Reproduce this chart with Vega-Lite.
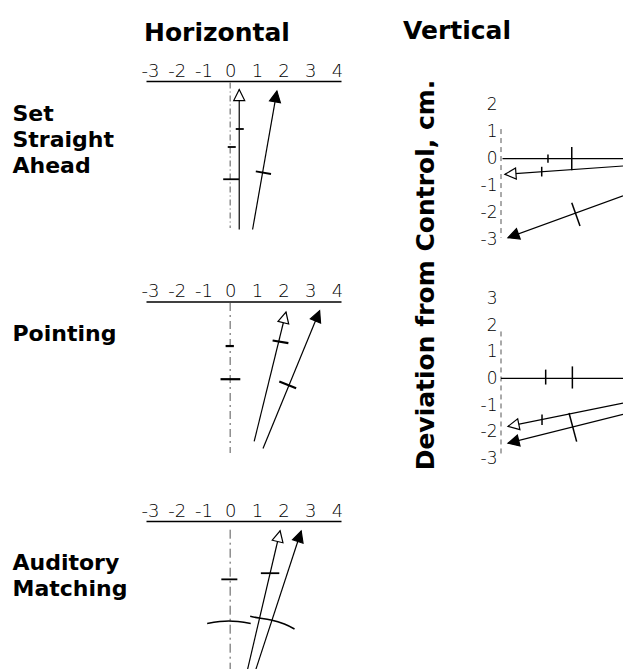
{
  "$schema": "https://vega.github.io/schema/vega-lite/v6.json",
  "background": "white",
  "padding": {"left": 12, "top": 19, "right": 0, "bottom": 0},
  "config": {
    "view": {"stroke": null},
    "axis": {"grid": false},
    "font": "DejaVu Sans"
  },
  "datasets": {
    "h1": [
      {"kind": "control", "x": 0, "y": 0.1, "x2": 0, "y2": 9.8},
      {"kind": "path", "style": "open", "x": 0.34, "y": 0.57, "x2": 0.34, "y2": 9.9, "heading": 0},
      {"kind": "path", "style": "filled", "x": 1.75, "y": 0.67, "x2": 0.84, "y2": 9.9, "heading": 10},
      {"kind": "tick", "x": 0.21, "y": 3.2, "x2": 0.51, "y2": 3.2},
      {"kind": "tick", "x": -0.09, "y": 4.4, "x2": 0.21, "y2": 4.4},
      {"kind": "tick", "x": -0.26, "y": 6.55, "x2": 0.33, "y2": 6.55},
      {"kind": "tick", "x": 0.96, "y": 6.03, "x2": 1.53, "y2": 6.2}
    ],
    "h2": [
      {"kind": "control", "x": 0, "y": 0.1, "x2": 0, "y2": 10.1},
      {"kind": "path", "style": "open", "x": 2.09, "y": 0.7, "x2": 0.9, "y2": 9.33, "heading": 13.8},
      {"kind": "path", "style": "filled", "x": 3.35, "y": 0.62, "x2": 1.23, "y2": 9.8, "heading": 22.2},
      {"kind": "tick", "x": -0.17, "y": 2.97, "x2": 0.14, "y2": 2.97},
      {"kind": "tick", "x": -0.36, "y": 5.18, "x2": 0.38, "y2": 5.18},
      {"kind": "tick", "x": 1.59, "y": 2.6, "x2": 2.18, "y2": 2.78},
      {"kind": "tick", "x": 1.84, "y": 5.33, "x2": 2.47, "y2": 5.78}
    ],
    "h3": [
      {"kind": "control", "x": 0, "y": 0.58, "x2": 0, "y2": 9.98},
      {"kind": "path", "style": "open", "x": 1.87, "y": 0.65, "x2": 0.65, "y2": 9.91, "heading": 13.1},
      {"kind": "path", "style": "filled", "x": 2.66, "y": 0.67, "x2": 0.96, "y2": 9.91, "heading": 18},
      {"kind": "tick", "x": -0.33, "y": 3.89, "x2": 0.27, "y2": 3.89},
      {"kind": "tick", "x": 1.15, "y": 3.48, "x2": 1.84, "y2": 3.48},
      {"kind": "arc", "id": "a", "i": 0, "x": -0.86, "y": 6.83},
      {"kind": "arc", "id": "a", "i": 1, "x": -0.05, "y": 6.67},
      {"kind": "arc", "id": "a", "i": 2, "x": 0.77, "y": 6.83},
      {"kind": "arc", "id": "b", "i": 0, "x": 0.75, "y": 6.35},
      {"kind": "arc", "id": "b", "i": 1, "x": 1.09, "y": 6.47},
      {"kind": "arc", "id": "b", "i": 2, "x": 1.53, "y": 6.6},
      {"kind": "arc", "id": "b", "i": 3, "x": 2.03, "y": 6.87},
      {"kind": "arc", "id": "b", "i": 4, "x": 2.41, "y": 7.2}
    ],
    "v1": [
      {"kind": "control", "x": 0, "y": 1.1, "x2": 0, "y2": -2.93},
      {"kind": "level", "x": 0.1, "y": 0, "x2": 8, "y2": 0},
      {"kind": "path", "style": "open", "x": 0.26, "y": -0.58, "x2": 8, "y2": -0.27, "heading": 266},
      {"kind": "path", "style": "filled", "x": 0.46, "y": -2.93, "x2": 8, "y2": -1.38, "heading": 250},
      {"kind": "tick", "x": 3.08, "y": 0.16, "x2": 3.08, "y2": -0.15},
      {"kind": "tick", "x": 4.64, "y": 0.43, "x2": 4.64, "y2": -0.43},
      {"kind": "tick", "x": 2.67, "y": -0.3, "x2": 2.67, "y2": -0.66},
      {"kind": "tick", "x": 4.64, "y": -1.63, "x2": 5.18, "y2": -2.5}
    ],
    "v2": [
      {"kind": "control", "x": 0, "y": 1.76, "x2": 0, "y2": -2.93},
      {"kind": "level", "x": 0, "y": 0, "x2": 8, "y2": 0},
      {"kind": "path", "style": "open", "x": 0.46, "y": -1.8, "x2": 8, "y2": -0.93, "heading": 258.5},
      {"kind": "path", "style": "filled", "x": 0.46, "y": -2.43, "x2": 8, "y2": -1.35, "heading": 256},
      {"kind": "tick", "x": 2.93, "y": 0.33, "x2": 2.93, "y2": -0.23},
      {"kind": "tick", "x": 4.68, "y": 0.45, "x2": 4.68, "y2": -0.38},
      {"kind": "tick", "x": 2.69, "y": -1.35, "x2": 2.69, "y2": -1.75},
      {"kind": "tick", "x": 4.46, "y": -1.3, "x2": 4.96, "y2": -2.37}
    ]
  },
  "columns": 2,
  "spacing": {"row": 30, "column": 160},
  "bounds": "flush",
  "align": "each",
  "concat": [
    {
      "width": 195, "height": 178.5,
      "title": {"text": "Horizontal", "anchor": "start", "frame": "group", "offset": 16.5, "dx": -2, "font": "DejaVu Sans", "fontSize": 25, "fontWeight": "bold", "color": "black"},
      "data": {"name": "h1"},
      "encoding": {
        "x": {"field": "x", "type": "quantitative", "scale": {"domain": [-3.15, 4.15], "nice": false, "zero": false},
          "axis": {"orient": "top", "title": null, "values": [-3, -2, -1, 0, 1, 2, 3, 4], "labelExpr": "replace(datum.label, '−', '-')", "ticks": false, "domainColor": "black", "domainWidth": 1.5, "labelPadding": 1, "labelFont": "DejaVu Sans", "labelFontWeight": 200, "labelFontSize": 18, "labelColor": "black", "labelFlush": false, "labelOverlap": false}},
        "y": {"field": "y", "type": "quantitative", "scale": {"domain": [0, 11.9], "reverse": true, "nice": false, "zero": false},
          "axis": {"title": ["Set", "Straight", "Ahead"], "domain": false, "ticks": false, "labels": false, "titleAngle": 0, "titleAlign": "left", "titleBaseline": "alphabetic", "titleX": -134, "titleY": 39, "titleFont": "DejaVu Sans", "titleFontSize": 22, "titleFontWeight": "bold", "titleLineHeight": 26, "titleColor": "black"}}
      },
      "layer": [
        {"transform": [{"filter": "datum.kind == 'control'"}], "mark": {"type": "rule", "color": "#555", "strokeWidth": 1, "strokeDash": [6, 3, 1, 3]}, "encoding": {"x2": {"field": "x2"}, "y2": {"field": "y2"}}},
        {"transform": [{"filter": "datum.kind == 'path'"}], "mark": {"type": "rule", "color": "black", "strokeWidth": 1.2}, "encoding": {"x2": {"field": "x2"}, "y2": {"field": "y2"}}},
        {"transform": [{"filter": "datum.kind == 'tick'"}], "mark": {"type": "rule", "color": "black", "strokeWidth": 1.8}, "encoding": {"x2": {"field": "x2"}, "y2": {"field": "y2"}}},
        {"transform": [{"filter": "datum.kind == 'path'"}], "mark": {"type": "point", "shape": "M0,0L0.55,1.1L-0.55,1.1Z", "size": 400, "filled": true, "stroke": "black", "strokeWidth": 1.2, "opacity": 1},
          "encoding": {"angle": {"field": "heading", "type": "quantitative", "scale": null}, "fill": {"field": "style", "type": "nominal", "scale": {"domain": ["open", "filled"], "range": ["white", "black"]}, "legend": null}}}
      ]
    },
    {
      "width": 122, "height": 178.5,
      "title": {"text": "Vertical", "anchor": "start", "frame": "group", "offset": 35, "dx": -98, "font": "DejaVu Sans", "fontSize": 25, "fontWeight": "bold", "color": "black"},
      "data": {"name": "v1"},
      "encoding": {
        "x": {"field": "x", "type": "quantitative", "scale": {"domain": [0, 8], "nice": false, "zero": false}, "axis": null},
        "y": {"field": "y", "type": "quantitative", "scale": {"domain": [-3.74, 2.883], "nice": false, "zero": false},
          "axis": {"title": "Deviation from Control, cm.", "values": [2, 1, 0, -1, -2, -3], "labelExpr": "replace(datum.label, '−', '-')", "domain": false, "ticks": false, "labelPadding": 4, "labelFont": "DejaVu Sans", "labelFontWeight": 200, "labelFontSize": 17, "labelColor": "black", "labelFlush": false, "labelOverlap": false, "titleAngle": 270, "titleAlign": "center", "titleBaseline": "alphabetic", "titleX": -68, "titleY": 193.5, "titleFont": "DejaVu Sans", "titleFontSize": 25, "titleFontWeight": "bold", "titleColor": "black"}}
      },
      "layer": [
        {"transform": [{"filter": "datum.kind == 'control'"}], "mark": {"type": "rule", "color": "#555", "strokeWidth": 1, "strokeDash": [5, 4]}, "encoding": {"x2": {"field": "x2"}, "y2": {"field": "y2"}}},
        {"transform": [{"filter": "datum.kind == 'path' || datum.kind == 'level'"}], "mark": {"type": "rule", "color": "black", "strokeWidth": 1.2}, "encoding": {"x2": {"field": "x2"}, "y2": {"field": "y2"}}},
        {"transform": [{"filter": "datum.kind == 'tick'"}], "mark": {"type": "rule", "color": "black", "strokeWidth": 1.5}, "encoding": {"x2": {"field": "x2"}, "y2": {"field": "y2"}}},
        {"transform": [{"filter": "datum.kind == 'path'"}], "mark": {"type": "point", "shape": "M0,0L0.55,1.1L-0.55,1.1Z", "size": 400, "filled": true, "stroke": "black", "strokeWidth": 1.2, "opacity": 1},
          "encoding": {"angle": {"field": "heading", "type": "quantitative", "scale": null}, "fill": {"field": "style", "type": "nominal", "scale": {"domain": ["open", "filled"], "range": ["white", "black"]}, "legend": null}}}
      ]
    },
    {
      "width": 195, "height": 200.8,
      "data": {"name": "h2"},
      "encoding": {
        "x": {"field": "x", "type": "quantitative", "scale": {"domain": [-3.15, 4.15], "nice": false, "zero": false},
          "axis": {"orient": "top", "offset": -11.5, "title": null, "values": [-3, -2, -1, 0, 1, 2, 3, 4], "labelExpr": "replace(datum.label, '−', '-')", "ticks": false, "domainColor": "black", "domainWidth": 1.5, "labelPadding": 1, "labelFont": "DejaVu Sans", "labelFontWeight": 200, "labelFontSize": 18, "labelColor": "black", "labelFlush": false, "labelOverlap": false}},
        "y": {"field": "y", "type": "quantitative", "scale": {"domain": [-0.767, 12.62], "reverse": true, "nice": false, "zero": false},
          "axis": {"title": "Pointing", "domain": false, "ticks": false, "labels": false, "titleAngle": 0, "titleAlign": "left", "titleBaseline": "alphabetic", "titleX": -134, "titleY": 50.5, "titleFont": "DejaVu Sans", "titleFontSize": 22, "titleFontWeight": "bold", "titleLineHeight": 26, "titleColor": "black"}}
      },
      "layer": [
        {"transform": [{"filter": "datum.kind == 'control'"}], "mark": {"type": "rule", "color": "#555", "strokeWidth": 1, "strokeDash": [8, 4, 2, 4]}, "encoding": {"x2": {"field": "x2"}, "y2": {"field": "y2"}}},
        {"transform": [{"filter": "datum.kind == 'path'"}], "mark": {"type": "rule", "color": "black", "strokeWidth": 1.2}, "encoding": {"x2": {"field": "x2"}, "y2": {"field": "y2"}}},
        {"transform": [{"filter": "datum.kind == 'tick'"}], "mark": {"type": "rule", "color": "black", "strokeWidth": 2.2}, "encoding": {"x2": {"field": "x2"}, "y2": {"field": "y2"}}},
        {"transform": [{"filter": "datum.kind == 'path'"}], "mark": {"type": "point", "shape": "M0,0L0.55,1.1L-0.55,1.1Z", "size": 400, "filled": true, "stroke": "black", "strokeWidth": 1.2, "opacity": 1},
          "encoding": {"angle": {"field": "heading", "type": "quantitative", "scale": null}, "fill": {"field": "style", "type": "nominal", "scale": {"domain": ["open", "filled"], "range": ["white", "black"]}, "legend": null}}}
      ]
    },
    {
      "width": 122, "height": 176,
      "data": {"name": "v2"},
      "encoding": {
        "x": {"field": "x", "type": "quantitative", "scale": {"domain": [0, 8], "nice": false, "zero": false}, "axis": null},
        "y": {"field": "y", "type": "quantitative", "scale": {"domain": [-3.285, 3.315], "nice": false, "zero": false},
          "axis": {"title": null, "values": [3, 2, 1, 0, -1, -2, -3], "labelExpr": "replace(datum.label, '−', '-')", "domain": false, "ticks": false, "labelPadding": 4, "labelFont": "DejaVu Sans", "labelFontWeight": 200, "labelFontSize": 17, "labelColor": "black", "labelFlush": false, "labelOverlap": false}}
      },
      "layer": [
        {"transform": [{"filter": "datum.kind == 'control'"}], "mark": {"type": "rule", "color": "#555", "strokeWidth": 1, "strokeDash": [5, 4]}, "encoding": {"x2": {"field": "x2"}, "y2": {"field": "y2"}}},
        {"transform": [{"filter": "datum.kind == 'path' || datum.kind == 'level'"}], "mark": {"type": "rule", "color": "black", "strokeWidth": 1.2}, "encoding": {"x2": {"field": "x2"}, "y2": {"field": "y2"}}},
        {"transform": [{"filter": "datum.kind == 'tick'"}], "mark": {"type": "rule", "color": "black", "strokeWidth": 1.5}, "encoding": {"x2": {"field": "x2"}, "y2": {"field": "y2"}}},
        {"transform": [{"filter": "datum.kind == 'path'"}], "mark": {"type": "point", "shape": "M0,0L0.55,1.1L-0.55,1.1Z", "size": 400, "filled": true, "stroke": "black", "strokeWidth": 1.2, "opacity": 1},
          "encoding": {"angle": {"field": "heading", "type": "quantitative", "scale": null}, "fill": {"field": "style", "type": "nominal", "scale": {"domain": ["open", "filled"], "range": ["white", "black"]}, "legend": null}}}
      ]
    },
    {
      "width": 195, "height": 176,
      "data": {"name": "h3"},
      "encoding": {
        "x": {"field": "x", "type": "quantitative", "scale": {"domain": [-3.15, 4.15], "nice": false, "zero": false},
          "axis": {"orient": "top", "title": null, "values": [-3, -2, -1, 0, 1, 2, 3, 4], "labelExpr": "replace(datum.label, '−', '-')", "ticks": false, "domainColor": "black", "domainWidth": 1.5, "labelPadding": 1, "labelFont": "DejaVu Sans", "labelFontWeight": 200, "labelFontSize": 18, "labelColor": "black", "labelFlush": false, "labelOverlap": false}},
        "y": {"field": "y", "type": "quantitative", "scale": {"domain": [0, 11.733], "reverse": true, "nice": false, "zero": false},
          "axis": {"title": ["Auditory", "Matching"], "domain": false, "ticks": false, "labels": false, "titleAngle": 0, "titleAlign": "left", "titleBaseline": "alphabetic", "titleX": -134, "titleY": 48, "titleFont": "DejaVu Sans", "titleFontSize": 22, "titleFontWeight": "bold", "titleLineHeight": 26, "titleColor": "black"}}
      },
      "layer": [
        {"transform": [{"filter": "datum.kind == 'control'"}], "mark": {"type": "rule", "color": "#555", "strokeWidth": 1, "strokeDash": [9, 4, 2, 4]}, "encoding": {"x2": {"field": "x2"}, "y2": {"field": "y2"}}},
        {"transform": [{"filter": "datum.kind == 'path'"}], "mark": {"type": "rule", "color": "black", "strokeWidth": 1.2}, "encoding": {"x2": {"field": "x2"}, "y2": {"field": "y2"}}},
        {"transform": [{"filter": "datum.kind == 'tick'"}], "mark": {"type": "rule", "color": "black", "strokeWidth": 1.8}, "encoding": {"x2": {"field": "x2"}, "y2": {"field": "y2"}}},
        {"transform": [{"filter": "datum.kind == 'arc'"}], "mark": {"type": "line", "color": "black", "strokeWidth": 1.6, "interpolate": "natural"}, "encoding": {"detail": {"field": "id"}, "order": {"field": "i", "type": "quantitative"}}},
        {"transform": [{"filter": "datum.kind == 'path'"}], "mark": {"type": "point", "shape": "M0,0L0.55,1.1L-0.55,1.1Z", "size": 400, "filled": true, "stroke": "black", "strokeWidth": 1.2, "opacity": 1},
          "encoding": {"angle": {"field": "heading", "type": "quantitative", "scale": null}, "fill": {"field": "style", "type": "nominal", "scale": {"domain": ["open", "filled"], "range": ["white", "black"]}, "legend": null}}}
      ]
    }
  ]
}
